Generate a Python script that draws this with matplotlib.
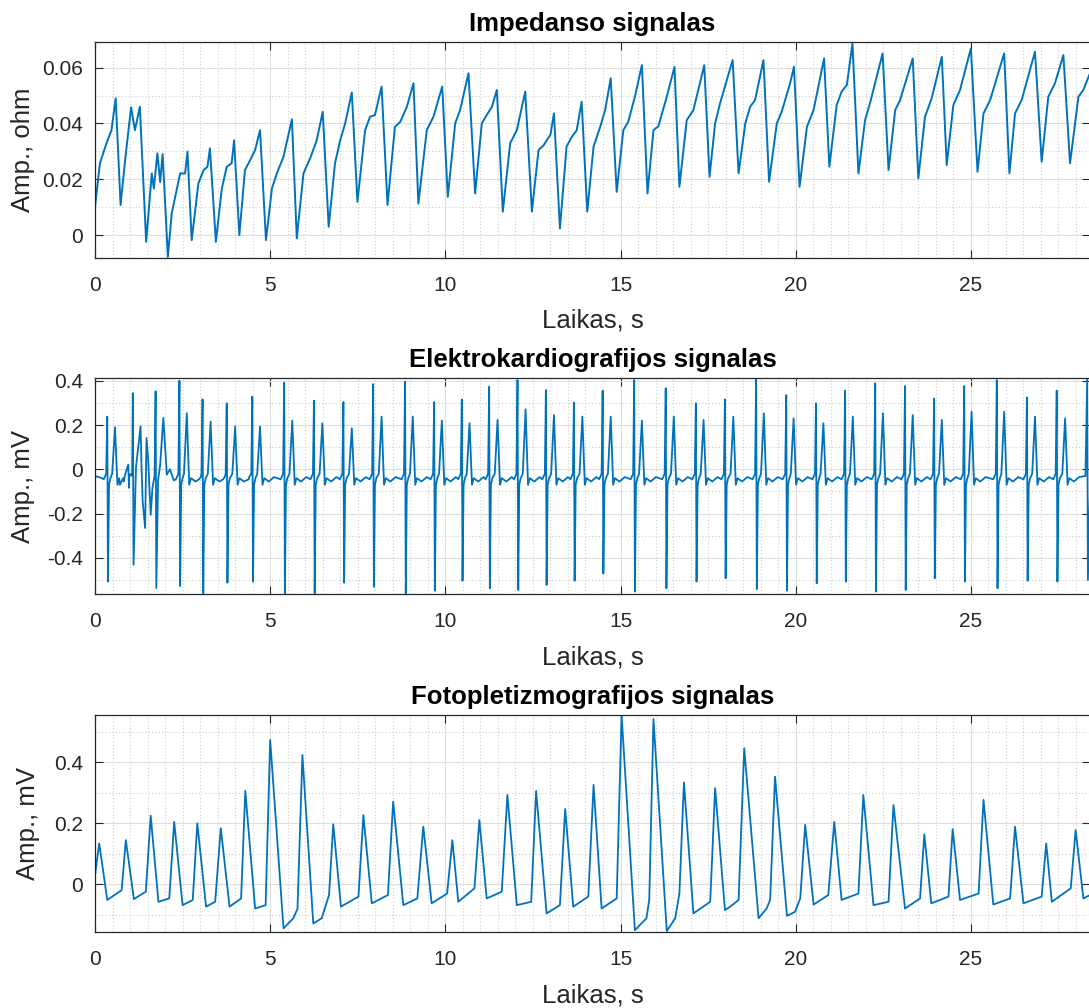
import numpy as np
import matplotlib
matplotlib.use('Agg')
import matplotlib.pyplot as plt
from matplotlib.ticker import MultipleLocator

plt.rcParams['font.family'] = ['Liberation Sans', 'DejaVu Sans']
plt.rcParams['axes.unicode_minus'] = False

LINE = '#0072BD'

# --- impedance signal, vertices (s, ohm)
imp_t = [0.0, 0.14, 0.33, 0.47, 0.59, 0.73, 0.86, 1.03, 1.14, 1.28, 1.46, 1.62, 1.68, 1.78, 1.86,
         1.93, 2.08, 2.19, 2.43, 2.57, 2.64, 2.76, 2.95, 3.10, 3.21, 3.28, 3.45, 3.62, 3.76, 3.90,
         3.97, 4.12, 4.28, 4.43, 4.57, 4.71, 4.88, 5.05, 5.19, 5.38, 5.62, 5.76, 5.95, 6.14, 6.33,
         6.50, 6.67, 6.85, 7.00, 7.14, 7.33, 7.49, 7.71, 7.85, 7.99, 8.18, 8.35, 8.56, 8.71, 8.90,
         9.09, 9.23, 9.47, 9.66, 9.91, 10.07, 10.28, 10.42, 10.66, 10.85, 11.04, 11.18, 11.33, 11.47,
         11.64, 11.85, 12.04, 12.28, 12.47, 12.66, 12.80, 13.00, 13.10, 13.27, 13.46, 13.60, 13.75,
         13.89, 14.05, 14.23, 14.42, 14.56, 14.72, 14.89, 15.08, 15.22, 15.41, 15.61, 15.77, 15.94,
         16.08, 16.32, 16.54, 16.68, 16.89, 17.08, 17.39, 17.54, 17.70, 17.84, 18.20, 18.37, 18.56,
         18.70, 18.84, 19.08, 19.24, 19.46, 19.60, 19.84, 19.95, 20.11, 20.32, 20.51, 20.81, 20.96,
         21.17, 21.31, 21.46, 21.62, 21.79, 21.98, 22.12, 22.48, 22.65, 22.84, 22.98, 23.34, 23.50,
         23.69, 23.88, 24.17, 24.31, 24.50, 24.69, 25.00, 25.19, 25.36, 25.55, 25.95, 26.10, 26.26,
         26.45, 26.83, 27.02, 27.21, 27.40, 27.64, 27.83, 28.07, 28.21, 28.40]
imp_v = [0.0100, 0.0257, 0.0330, 0.0376, 0.0490, 0.0108, 0.0269, 0.0458, 0.0376, 0.0460, -0.0024,
         0.0221, 0.0167, 0.0293, 0.0190, 0.0290, -0.0078, 0.0078, 0.0221, 0.0221, 0.0299, -0.0018,
         0.0185, 0.0233, 0.0245, 0.0311, -0.0024, 0.0167, 0.0245, 0.0257, 0.0340, 0.0000, 0.0233,
         0.0269, 0.0305, 0.0376, -0.0018, 0.0167, 0.0221, 0.0281, 0.0415, -0.0012, 0.0221, 0.0275,
         0.0340, 0.0442, 0.0030, 0.0257, 0.0340, 0.0400, 0.0511, 0.0119, 0.0376, 0.0424, 0.0430,
         0.0532, 0.0108, 0.0388, 0.0405, 0.0459, 0.0544, 0.0113, 0.0376, 0.0424, 0.0532, 0.0137,
         0.0400, 0.0448, 0.0580, 0.0149, 0.0400, 0.0430, 0.0460, 0.0520, 0.0084, 0.0329, 0.0376,
         0.0514, 0.0084, 0.0305, 0.0321, 0.0360, 0.0436, 0.0024, 0.0317, 0.0350, 0.0376, 0.0478,
         0.0084, 0.0317, 0.0388, 0.0448, 0.0562, 0.0155, 0.0376, 0.0406, 0.0496, 0.0609, 0.0149,
         0.0376, 0.0390, 0.0496, 0.0603, 0.0173, 0.0412, 0.0448, 0.0609, 0.0209, 0.0400, 0.0472,
         0.0627, 0.0221, 0.0400, 0.0460, 0.0484, 0.0627, 0.0191, 0.0400, 0.0442, 0.0544, 0.0603,
         0.0173, 0.0388, 0.0448, 0.0633, 0.0245, 0.0466, 0.0514, 0.0538, 0.0687, 0.0221, 0.0412,
         0.0472, 0.0651, 0.0233, 0.0448, 0.0484, 0.0633, 0.0203, 0.0424, 0.0490, 0.0639, 0.0251,
         0.0466, 0.0520, 0.0669, 0.0227, 0.0436, 0.0484, 0.0651, 0.0221, 0.0436, 0.0484, 0.0657,
         0.0263, 0.0496, 0.0544, 0.0645, 0.0257, 0.0496, 0.0520, 0.0580]

# --- ECG: beats (R time, R peak, S trough, T time, T peak), mV
ecg_r_t = [0.35, 2.41, 3.07, 3.76, 4.49, 5.40, 6.25, 7.09, 7.94, 8.85, 9.68, 10.47, 11.25, 12.06,
           12.87, 13.67, 14.49, 15.39, 16.29, 17.15, 17.98, 18.87, 19.73, 20.58, 21.41, 22.27,
           23.12, 23.95, 24.81, 25.74, 26.60, 27.45]
ecg_r_v = [0.238, 0.400, 0.316, 0.298, 0.328, 0.391, 0.310, 0.304, 0.385, 0.396, 0.304, 0.316,
           0.373, 0.403, 0.358, 0.301, 0.355, 0.403, 0.366, 0.298, 0.316, 0.410, 0.335, 0.298,
           0.355, 0.388, 0.376, 0.320, 0.376, 0.403, 0.325, 0.355]
ecg_s_v = [-0.507, -0.527, -0.560, -0.512, -0.507, -0.560, -0.560, -0.512, -0.530, -0.560, -0.548,
           -0.503, -0.537, -0.545, -0.522, -0.503, -0.470, -0.552, -0.537, -0.507, -0.492, -0.541,
           -0.548, -0.515, -0.507, -0.552, -0.545, -0.492, -0.507, -0.537, -0.503, -0.507]
ecg_t_t = [0.57, 2.62, 3.30, 4.00, 4.71, 5.63, 6.49, 7.33, 8.18, 9.07, 9.90, 10.69, 11.49, 12.29,
           13.10, 13.91, 14.72, 15.61, 16.52, 17.37, 18.22, 19.09, 19.94, 20.79, 21.63, 22.49,
           23.34, 24.17, 25.02, 25.95, 26.83, 27.69]
ecg_t_v = [0.190, 0.253, 0.215, 0.193, 0.193, 0.220, 0.208, 0.185, 0.238, 0.238, 0.220, 0.208,
           0.223, 0.271, 0.245, 0.238, 0.238, 0.220, 0.238, 0.223, 0.238, 0.253, 0.230, 0.208,
           0.238, 0.253, 0.245, 0.223, 0.260, 0.260, 0.238, 0.230]
# noisy stretch at the start (motion artefact), read point by point
ecg_noise_t = [0.71, 0.80, 0.86, 0.95, 0.97, 1.02, 1.06, 1.08, 1.10, 1.17, 1.24, 1.30, 1.33, 1.36,
               1.43, 1.47, 1.52, 1.59, 1.64, 1.70, 1.73, 1.75, 1.80, 1.86, 1.95, 2.05, 2.14, 2.25]
ecg_noise_v = [-0.070, -0.040, -0.024, 0.021, -0.084, -0.020, -0.030, 0.344, -0.431, 0.010, 0.111,
               0.194, 0.000, -0.144, -0.265, 0.141, 0.036, -0.205, -0.084, -0.030, 0.352, -0.536,
               -0.050, 0.021, 0.232, -0.024, 0.000, -0.050]
ecg_last_r = (28.32, 0.41, -0.50)

# --- PPG, vertices
ppg_t = [0.00, 0.12, 0.35, 0.76, 0.88, 1.11, 1.45, 1.59, 1.81, 2.12, 2.26, 2.50, 2.79, 2.92, 3.17,
         3.43, 3.59, 3.84, 4.17, 4.29, 4.57, 4.87, 5.00, 5.38, 5.66, 5.78, 5.92, 6.23, 6.47, 6.68,
         6.80, 7.02, 7.52, 7.66, 7.90, 8.36, 8.51, 8.80, 9.20, 9.37, 9.61, 10.05, 10.20, 10.37,
         10.83, 10.97, 11.18, 11.61, 11.77, 12.04, 12.45, 12.59, 12.89, 13.27, 13.42, 13.65, 14.08,
         14.23, 14.46, 14.89, 15.03, 15.41, 15.74, 15.82, 15.94, 16.32, 16.56, 16.68, 16.81, 17.08,
         17.56, 17.70, 17.98, 18.13, 18.37, 18.53, 18.94, 19.17, 19.27, 19.41, 19.75, 19.98, 20.13,
         20.27, 20.51, 20.93, 21.10, 21.31, 21.79, 21.93, 22.22, 22.65, 22.79, 23.12, 23.55, 23.67,
         23.87, 24.36, 24.48, 24.69, 25.22, 25.36, 25.64, 26.12, 26.26, 26.50, 27.02, 27.15, 27.31,
         27.85, 27.99, 28.21, 28.40]
ppg_v = [0.030, 0.134, -0.051, -0.019, 0.145, -0.048, -0.024, 0.225, -0.057, -0.046, 0.205, -0.068,
         -0.051, 0.200, -0.073, -0.057, 0.184, -0.073, -0.046, 0.306, -0.079, -0.068, 0.473, -0.144,
         -0.111, -0.080, 0.424, -0.128, -0.111, -0.035, 0.197, -0.073, -0.040, 0.227, -0.062,
         -0.035, 0.271, -0.068, -0.046, 0.189, -0.062, -0.030, 0.145, -0.057, -0.013, 0.211,
         -0.046, -0.024, 0.293, -0.068, -0.057, 0.306, -0.095, -0.068, 0.247, -0.073, -0.040,
         0.326, -0.079, -0.046, 0.555, -0.150, -0.111, -0.050, 0.542, -0.153, -0.111, -0.030,
         0.334, -0.095, -0.057, 0.315, -0.084, -0.073, -0.051, 0.446, -0.111, -0.079, -0.051,
         0.353, -0.103, -0.090, -0.046, 0.195, -0.066, -0.035, 0.205, -0.051, -0.030, 0.293,
         -0.068, -0.057, 0.260, -0.079, -0.046, 0.164, -0.062, -0.040, 0.181, -0.051, -0.030,
         0.277, -0.066, -0.046, 0.189, -0.062, -0.040, 0.134, -0.057, -0.013, 0.178, -0.046,
         -0.035]


def ecg_trace():
    pts = [(0.0, -0.03), (0.2, -0.04)]
    for i in range(len(ecg_r_t)):
        r, t = ecg_r_t[i], ecg_t_t[i]
        beat = [(r - 0.10, -0.045), (r - 0.03, -0.02), (r, ecg_r_v[i]), (r + 0.02, ecg_s_v[i]),
                (r + 0.05, -0.07), (r + 0.09, -0.04), (t - 0.08, -0.02), (t, ecg_t_v[i]),
                (t + 0.07, -0.07), (t + 0.12, -0.04), (t + 0.25, -0.055), (t + 0.40, -0.035)]
        pts += beat
        if i == 0:
            pts += list(zip(ecg_noise_t, ecg_noise_v))
    r, rv, sv = ecg_last_r
    pts += [(r - 0.05, -0.03), (r, rv), (r + 0.02, sv), (28.4, -0.1)]
    pts.sort()
    x, y = zip(*pts)
    return np.array(x), np.array(y)


fig = plt.figure(figsize=(10.89, 10.08), dpi=100)
L, W = 95 / 1089, 995 / 1089
axes = [fig.add_axes([L, 1 - 257.7 / 1008, W, 216 / 1008]),
        fig.add_axes([L, 1 - 594 / 1008, W, 215.7 / 1008]),
        fig.add_axes([L, 1 - 931.7 / 1008, W, 216.7 / 1008])]

ex, ey = ecg_trace()
axes[0].plot(imp_t, imp_v, color=LINE, lw=1.4)
axes[1].plot(ex, ey, color=LINE, lw=1.3)
axes[2].plot(ppg_t, ppg_v, color=LINE, lw=1.3)

titles = ['Impedanso signalas', 'Elektrokardiografijos signalas', 'Fotopletizmografijos signalas']
ylabels = ['Amp., ohm', 'Amp., mV', 'Amp., mV']
ylims = [(-0.0081, 0.0693), (-0.563, 0.411), (-0.155, 0.555)]
yticks = [[0, 0.02, 0.04, 0.06], [-0.4, -0.2, 0, 0.2, 0.4], [0, 0.2, 0.4]]
yticklabels = [['0', '0.02', '0.04', '0.06'], ['-0.4', '-0.2', '0', '0.2', '0.4'], ['0', '0.2', '0.4']]
yminor = [0.01, 0.1, 0.1]
ylab_x = [-0.060, -0.060, -0.055]

for i, ax in enumerate(axes):
    ax.set_xlim(0, 28.4)
    ax.set_ylim(*ylims[i])
    ax.set_xticks([0, 5, 10, 15, 20, 25])
    ax.set_xticklabels(['0', '5', '10', '15', '20', '25'])
    ax.set_yticks(yticks[i])
    ax.set_yticklabels(yticklabels[i])
    ax.xaxis.set_minor_locator(MultipleLocator(0.5))
    ax.yaxis.set_minor_locator(MultipleLocator(yminor[i]))
    ax.grid(True, which='major', color='#dedede', lw=0.8, ls='-')
    ax.grid(True, which='minor', color='#cfcfcf', lw=0.8, ls=(0, (1, 2)))
    ax.set_axisbelow(True)
    ax.tick_params(which='major', direction='in', top=True, right=True, length=6, width=0.8,
                   color='#262626', labelsize=15, labelcolor='#262626')
    ax.tick_params(axis='x', which='major', pad=13)
    ax.tick_params(axis='y', which='major', pad=8.5)
    ax.tick_params(which='minor', length=0)
    for s in ax.spines.values():
        s.set_color('#262626')
        s.set_linewidth(0.9)
    ax.set_title(titles[i], fontsize=18.5, fontweight='bold', pad=8)
    ax.set_xlabel('Laikas, s', fontsize=18.5, color='#262626')
    ax.xaxis.set_label_coords(0.5, -0.237)
    ax.set_ylabel(ylabels[i], fontsize=18.5, color='#262626')
    ax.yaxis.set_label_coords(ylab_x[i], 0.5)

fig.savefig('out.png', dpi=100)
